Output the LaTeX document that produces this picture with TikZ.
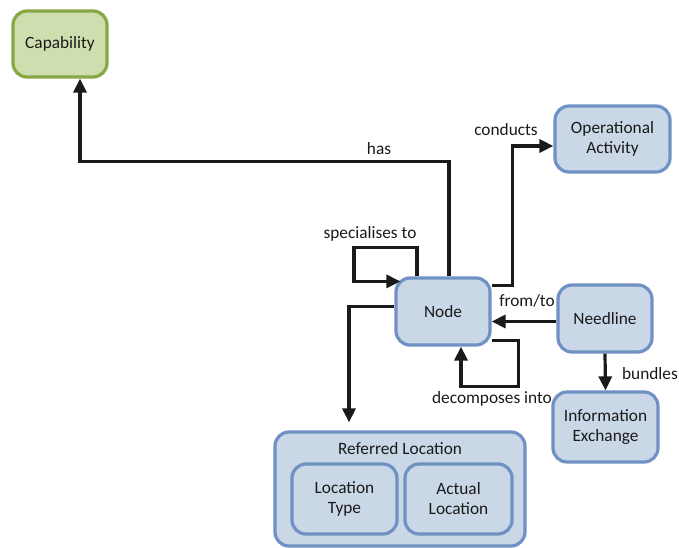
\documentclass[tikz,border=0pt]{standalone}
\usepackage{fontspec}
\setmainfont{Carlito}
\usetikzlibrary{arrows.meta}
\definecolor{bfill}{HTML}{C9D7E7}
\definecolor{bdraw}{HTML}{6F91C3}
\definecolor{gfill}{HTML}{CFDEAF}
\definecolor{gdraw}{HTML}{89A845}
\definecolor{txt}{HTML}{1A1A1A}
\tikzset{
  box/.style={draw=bdraw, fill=bfill, line width=3.2pt, rounded corners=14pt, align=center, text=txt, inner sep=0pt},
  gbox/.style={box, draw=gdraw, fill=gfill},
  conn/.style={line width=3.2pt, draw=txt, -{Triangle[length=14pt,width=13pt]}},
  lbl/.style={text=txt, inner sep=0pt}
}
\begin{document}
\begin{tikzpicture}[x=1pt,y=-1pt,font=\fontsize{17.3}{20}\selectfont]
\useasboundingbox (0,0) rectangle (679,548);
\node[gbox, minimum width=94pt, minimum height=66pt] (cap) at (60,44) {Capability};
\node[box, minimum width=115pt, minimum height=66pt] (opa) at (612.5,139) {Operational\\Activity};
\node[box, minimum width=94pt, minimum height=67pt] (nd) at (443,311.5) {Node};
\node[box, minimum width=94pt, minimum height=67pt] (nl) at (605,318.5) {Needline};
\node[box, minimum width=105pt, minimum height=70pt] (ie) at (605.5,427) {Information\\Exchange};
\node[box, minimum width=250pt, minimum height=114pt] (ref) at (400,489) {};
\node[lbl] (reft) at (400,449) {Referred Location};
\node[box, minimum width=105pt, minimum height=70pt] (lt) at (344.5,499) {Location\\Type};
\node[box, minimum width=107pt, minimum height=70pt] (al) at (458.5,499) {Actual\\Location};
% connectors
\draw[conn] ([xshift=6pt]nd.north) -- ++(0,-115) -| ([xshift=20pt]cap.south);
\draw[conn] ([yshift=-9pt]nd.north east) -- ++(21,0) |- ([yshift=-7pt]opa.west);
\draw[conn] ([xshift=-26pt]nd.north) -- ++(0,-29) -- ++(-63,0) -- ++(0,34) -- ([xshift=6pt,yshift=-5pt]nd.north west);
\draw[conn] ([yshift=5pt]nd.west) -| ([xshift=-51pt,yshift=8pt]ref.north);
\draw[conn] ([yshift=-3pt]nl.west) -- ([yshift=-3pt]nl.west -| nd.east);
\draw[conn] ([yshift=6pt]nd.south east) -- ++(27,0) -- ++(0,46) -| ([xshift=18pt]nd.south);
\draw[conn] (nl.south) -- (ie.north);
% labels
\node[lbl] (lhas) at (379,149) {has};
\node[lbl] (lcon) at (506,130) {conducts};
\node[lbl] (lspe) at (370,234) {specialises to};
\node[lbl] (lft) at (527,301) {from/to};
\node[lbl] (ldec) at (492,399) {decomposes into};
\node[lbl, anchor=east] (lbun) at (678,374) {bundles};
\end{tikzpicture}
\end{document}
